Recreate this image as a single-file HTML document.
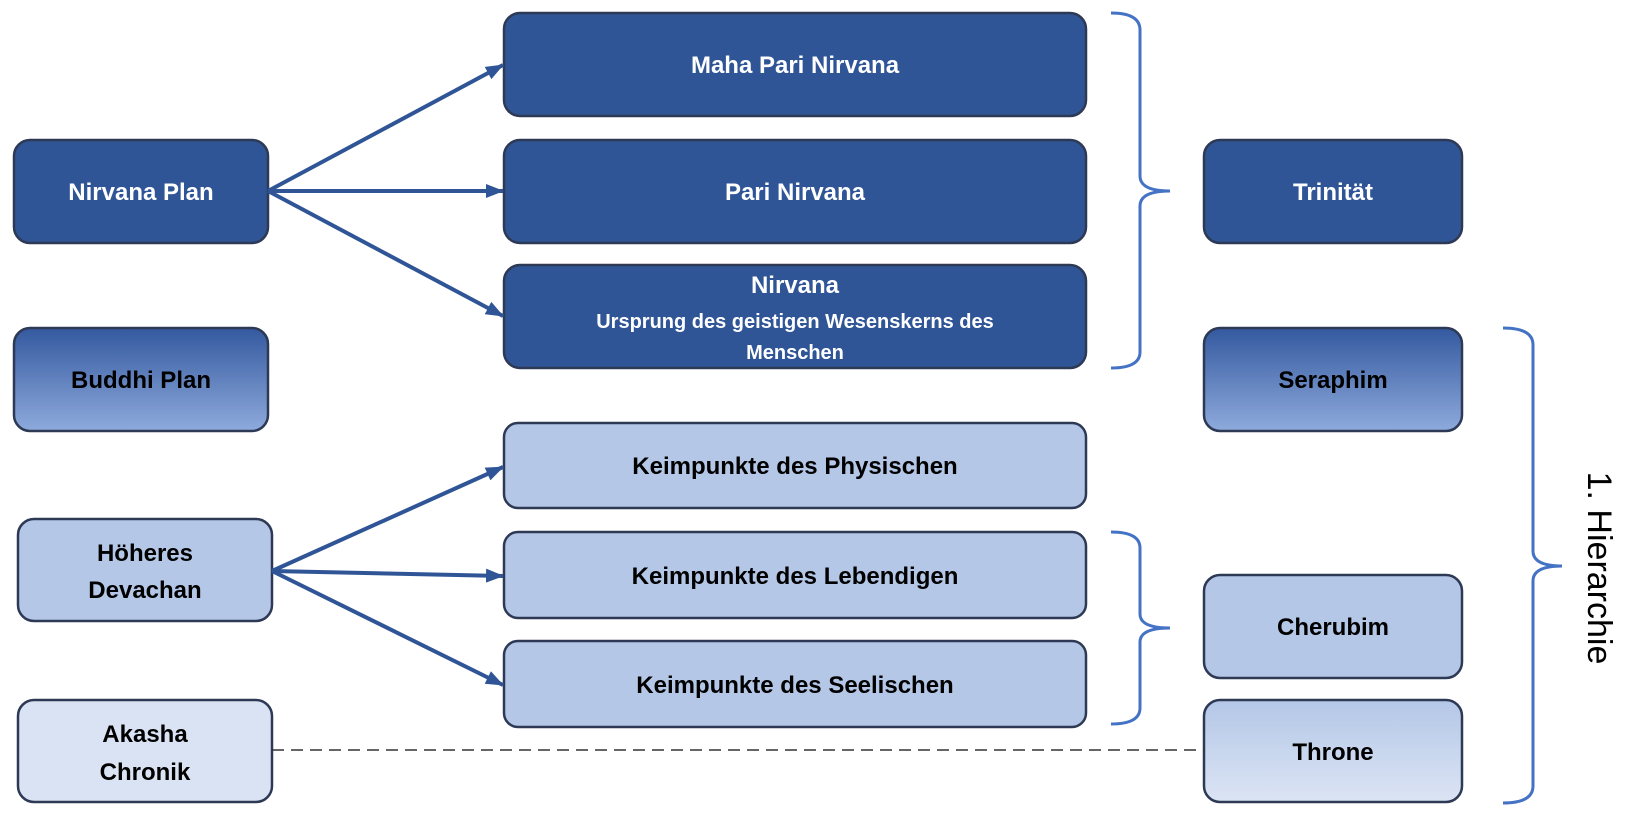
<!DOCTYPE html>
<html><head><meta charset="utf-8"><style>
html,body{margin:0;padding:0;background:#fff;width:1630px;height:820px;overflow:hidden}
svg text{font-family:"Liberation Sans",sans-serif;font-weight:bold}
</style></head><body>
<svg width="1630" height="820" viewBox="0 0 1630 820" xmlns="http://www.w3.org/2000/svg">
<defs>
<linearGradient id="gM" x1="0" y1="0" x2="0" y2="1"><stop offset="0" stop-color="#34599f"/><stop offset="1" stop-color="#8eaadc"/></linearGradient>
<linearGradient id="gL" x1="0" y1="0" x2="0" y2="1"><stop offset="0" stop-color="#b4c7e7"/><stop offset="1" stop-color="#dbe4f4"/></linearGradient>
<marker id="ar" markerWidth="18" markerHeight="14" refX="17" refY="7" orient="auto" markerUnits="userSpaceOnUse" viewBox="0 0 18 14"><path d="M0,0 L18,7 L0,14 z" fill="#2f5597"/></marker>
</defs>
<g stroke="#2e3a55" stroke-width="2.5">
<rect x="14" y="140" width="254" height="103" rx="16" fill="#2f5597"/>
<rect x="14" y="328" width="254" height="103" rx="16" fill="url(#gM)"/>
<rect x="18" y="519" width="254" height="102" rx="16" fill="#b4c7e7"/>
<rect x="18" y="700" width="254" height="102" rx="16" fill="#dae3f3"/>
<rect x="504" y="13" width="582" height="103" rx="16" fill="#2f5597"/>
<rect x="504" y="140" width="582" height="103" rx="16" fill="#2f5597"/>
<rect x="504" y="265" width="582" height="103" rx="16" fill="#2f5597"/>
<rect x="504" y="423" width="582" height="85" rx="14" fill="#b4c7e7"/>
<rect x="504" y="532" width="582" height="86" rx="14" fill="#b4c7e7"/>
<rect x="504" y="641" width="582" height="86" rx="14" fill="#b4c7e7"/>
<rect x="1204" y="140" width="258" height="103" rx="16" fill="#2f5597"/>
<rect x="1204" y="328" width="258" height="103" rx="16" fill="url(#gM)"/>
<rect x="1204" y="575" width="258" height="103" rx="16" fill="#b4c7e7"/>
<rect x="1204" y="700" width="258" height="102" rx="16" fill="url(#gL)"/>
</g>
<g stroke="#2f5597" stroke-width="4" fill="none">
<line x1="268" y1="191" x2="503" y2="65" marker-end="url(#ar)"/>
<line x1="268" y1="191" x2="503" y2="191" marker-end="url(#ar)"/>
<line x1="268" y1="191" x2="503" y2="316" marker-end="url(#ar)"/>
<line x1="272" y1="571" x2="503" y2="467" marker-end="url(#ar)"/>
<line x1="272" y1="571" x2="503" y2="576" marker-end="url(#ar)"/>
<line x1="272" y1="571" x2="503" y2="685" marker-end="url(#ar)"/>
</g>
<line x1="272" y1="750" x2="1204" y2="750" stroke="#333" stroke-width="1.5" stroke-dasharray="12,7"/>
<g stroke="#4472c4" stroke-width="3" fill="none">
<path d="M1111,13 Q1140,13 1140,30 L1140,176 Q1140,191 1170,191 Q1140,191 1140,206 L1140,352 Q1140,368 1111,368"/>
<path d="M1111,532 Q1140,532 1140,548 L1140,614 Q1140,628 1170,628 Q1140,628 1140,642 L1140,708 Q1140,724 1111,724"/>
<path d="M1503,328 Q1533,328 1533,345 L1533,551 Q1533,566 1562,566 Q1533,566 1533,581 L1533,786 Q1533,803 1503,803"/>
</g>
<g font-size="24" text-anchor="middle" fill="#fff">
<text x="141" y="200">Nirvana Plan</text>
<text x="795" y="73">Maha Pari Nirvana</text>
<text x="795" y="200">Pari Nirvana</text>
<text x="795" y="293">Nirvana</text>
<text x="795" y="328" font-size="20">Ursprung des geistigen Wesenskerns des</text>
<text x="795" y="359" font-size="20">Menschen</text>
<text x="1333" y="200">Trinität</text>
</g>
<g font-size="24" text-anchor="middle" fill="#000">
<text x="141" y="388">Buddhi Plan</text>
<text x="145" y="561">Höheres</text>
<text x="145" y="598">Devachan</text>
<text x="145" y="742">Akasha</text>
<text x="145" y="780">Chronik</text>
<text x="795" y="474">Keimpunkte des Physischen</text>
<text x="795" y="584">Keimpunkte des Lebendigen</text>
<text x="795" y="693">Keimpunkte des Seelischen</text>
<text x="1333" y="388">Seraphim</text>
<text x="1333" y="635">Cherubim</text>
<text x="1333" y="760">Throne</text>
</g>
<text x="1599" y="568" transform="rotate(90 1599 568)" text-anchor="middle" dominant-baseline="central" font-size="34" style="font-weight:normal" fill="#000">1. Hierarchie</text>
</svg>
</body></html>
